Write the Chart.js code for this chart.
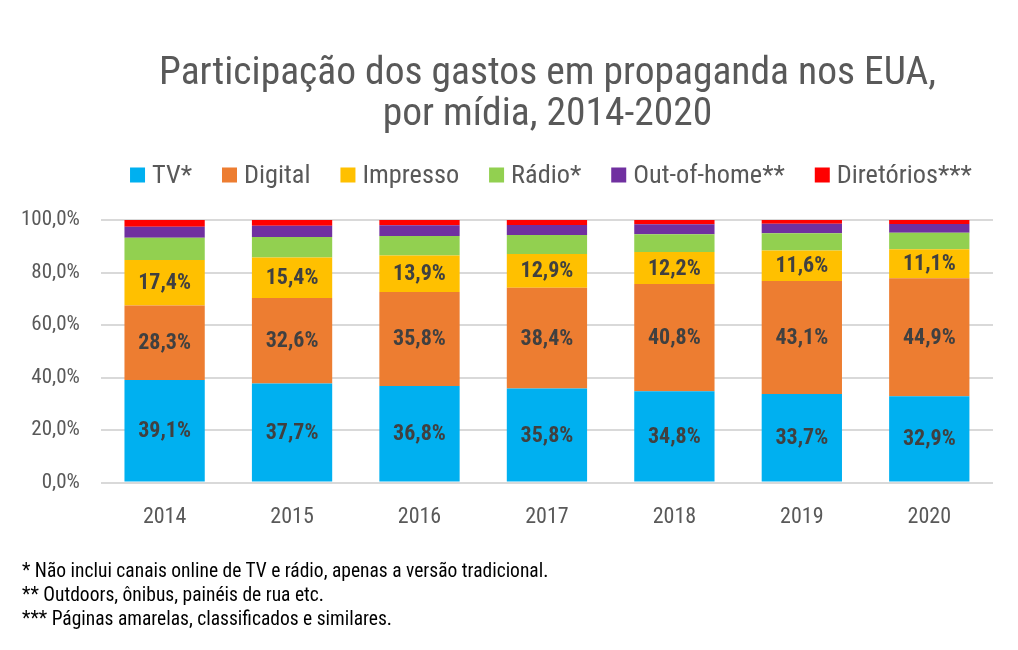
<!DOCTYPE html>
<html>
<head>
<meta charset="utf-8">
<script src="https://cdn.jsdelivr.net/npm/chart.js@4"></script>
<style>
  body { margin: 0; background: #fff; }
  #wrap { position: relative; width: 1018px; height: 650px; font-family: "Roboto Condensed", "Liberation Sans Narrow", Roboto, sans-serif; }
  #chart { position: absolute; left: 0; top: 0; }
  #title { position: absolute; left: 100px; width: 895px; top: 50px; text-align: center;
           font-size: 39.5px; line-height: 41px; color: #595959; white-space: nowrap; }
  #notes { position: absolute; left: 22px; top: 559px; font-size: 19.5px; line-height: 24px; color: #000; }
</style>
</head>
<body>
<div id="wrap">
  <canvas id="chart" width="1018" height="650"></canvas>
  <div id="title">Participação dos gastos em propaganda nos EUA,<br>por mídia, 2014-2020</div>
  <div id="notes">
    * Não inclui canais online de TV e rádio, apenas a versão tradicional.<br>
    ** Outdoors, ônibus, painéis de rua etc.<br>
    *** Páginas amarelas, classificados e similares.
  </div>
</div>
<script>
  const years = ['2014', '2015', '2016', '2017', '2018', '2019', '2020'];
  const tv = [39.1, 37.7, 36.8, 35.8, 34.8, 33.7, 32.9];
  const digital = [28.3, 32.6, 35.8, 38.4, 40.8, 43.1, 44.9];
  const impresso = [17.4, 15.4, 13.9, 12.9, 12.2, 11.6, 11.1];
  const radio = [8.4, 7.8, 7.4, 7.2, 6.8, 6.6, 6.2];
  const outOfHome = [4.2, 4.3, 4.1, 3.8, 3.8, 3.6, 3.4];
  const diretorios = [2.6, 2.2, 2.0, 1.9, 1.6, 1.4, 1.5];
  const yTicks = [0, 20, 40, 60, 80, 100];

  const fontFamily = '"Roboto Condensed", "Liberation Sans Narrow", Roboto, sans-serif';
  const fmt = v => v.toFixed(1).replace('.', ',') + '%';

  // draws the value labels inside the first three series
  const barLabels = {
    id: 'barLabels',
    afterDatasetsDraw(chart) {
      const ctx = chart.ctx;
      ctx.save();
      ctx.font = 'bold 22px ' + fontFamily;
      ctx.fillStyle = '#404040';
      ctx.textAlign = 'center';
      ctx.textBaseline = 'middle';
      [0, 1, 2].forEach(i => {
        const meta = chart.getDatasetMeta(i);
        meta.data.forEach((bar, j) => {
          const v = chart.data.datasets[i].data[j];
          ctx.fillText(fmt(v), bar.x, (bar.y + bar.base) / 2 + 1);
        });
      });
      ctx.restore();
    }
  };

  // legend row, tighter than the built-in one (box close to its text)
  const legendRow = {
    id: 'legendRow',
    afterDraw(chart) {
      const ctx = chart.ctx;
      const box = 15, gap = 7, spacing = 30, y = 175;
      ctx.save();
      ctx.font = '26.3px ' + fontFamily;
      ctx.textBaseline = 'middle';
      const items = chart.data.datasets.map(ds => ({
        text: ds.label, color: ds.backgroundColor, w: ctx.measureText(ds.label).width
      }));
      const total = items.reduce((s, it) => s + box + gap + it.w, 0) + spacing * (items.length - 1);
      let x = (chart.chartArea.left + chart.chartArea.right) / 2 + 4 - total / 2;
      items.forEach(it => {
        ctx.fillStyle = it.color;
        ctx.fillRect(x, y - box / 2, box, box);
        ctx.fillStyle = '#595959';
        ctx.fillText(it.text, x + box + gap, y + 1);
        x += box + gap + it.w + spacing;
      });
      ctx.restore();
    }
  };

  const ctx = document.getElementById('chart').getContext('2d');
  new Chart(ctx, {
    type: 'bar',
    data: {
      labels: years,
      datasets: [
        { label: 'TV*', data: tv, backgroundColor: '#00b0f0' },
        { label: 'Digital', data: digital, backgroundColor: '#ed7d31' },
        { label: 'Impresso', data: impresso, backgroundColor: '#ffc000' },
        { label: 'Rádio*', data: radio, backgroundColor: '#92d050' },
        { label: 'Out-of-home**', data: outOfHome, backgroundColor: '#7030a0' },
        { label: 'Diretórios***', data: diretorios, backgroundColor: '#ff0000' }
      ]
    },
    options: {
      responsive: false,
      animation: false,
      layout: { padding: { top: 220, right: 25, bottom: 105, left: 0 } },
      datasets: { bar: { categoryPercentage: 1, barPercentage: 0.63 } },
      scales: {
        x: {
          stacked: true,
          grid: { display: false },
          border: { display: false },
          ticks: { color: '#595959', font: { size: 22, family: fontFamily }, padding: 14 }
        },
        y: {
          stacked: true,
          min: 0,
          max: 100,
          afterBuildTicks: axis => { axis.ticks = yTicks.map(v => ({ value: v })); },
          grid: { color: '#d9d9d9', lineWidth: 2, drawTicks: false },
          border: { display: false },
          ticks: { color: '#595959', font: { size: 21, family: fontFamily }, padding: 21,
                   callback: v => fmt(v) }
        }
      },
      plugins: {
        tooltip: { enabled: false },
        legend: { display: false }
      }
    },
    plugins: [barLabels, legendRow]
  });
</script>
</body>
</html>
